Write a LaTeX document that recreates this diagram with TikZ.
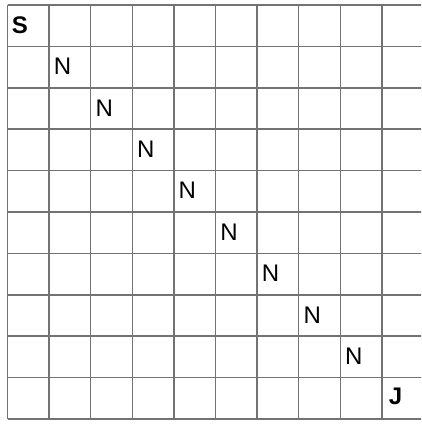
\documentclass[tikz,border=0pt]{standalone}
\usepackage{fontspec}
\setmainfont{Liberation Sans}
\begin{document}
\begin{tikzpicture}[x=1pt,y=-1pt,
	letter/.style={anchor=center,inner sep=0pt,font=\fontsize{24}{24}\selectfont},
	endletter/.style={letter,font=\fontsize{24}{24}\selectfont\bfseries}]
		\useasboundingbox (0,0) rectangle (421,426);
		\clip (0,0) rectangle (421,426);
		\foreach \k in {0,...,10}{
			\draw[black!55,line width=1.5pt] (7.5+41.6*\k,5) to (7.5+41.6*\k,419);
			\draw[black!55,line width=1.5pt] (7.5,5+41.4*\k) to (423.5,5+41.4*\k);}
		\node[endletter] (s) at (20,25.5) {S};
		\foreach \k in {1,...,8}{
			\node[letter] (n\k) at (7.5+41.6*\k+13.5,5+41.4*\k+20) {N};}
		\node[endletter] (j) at (395.5,396.5) {J};
	\end{tikzpicture}
\end{document}
